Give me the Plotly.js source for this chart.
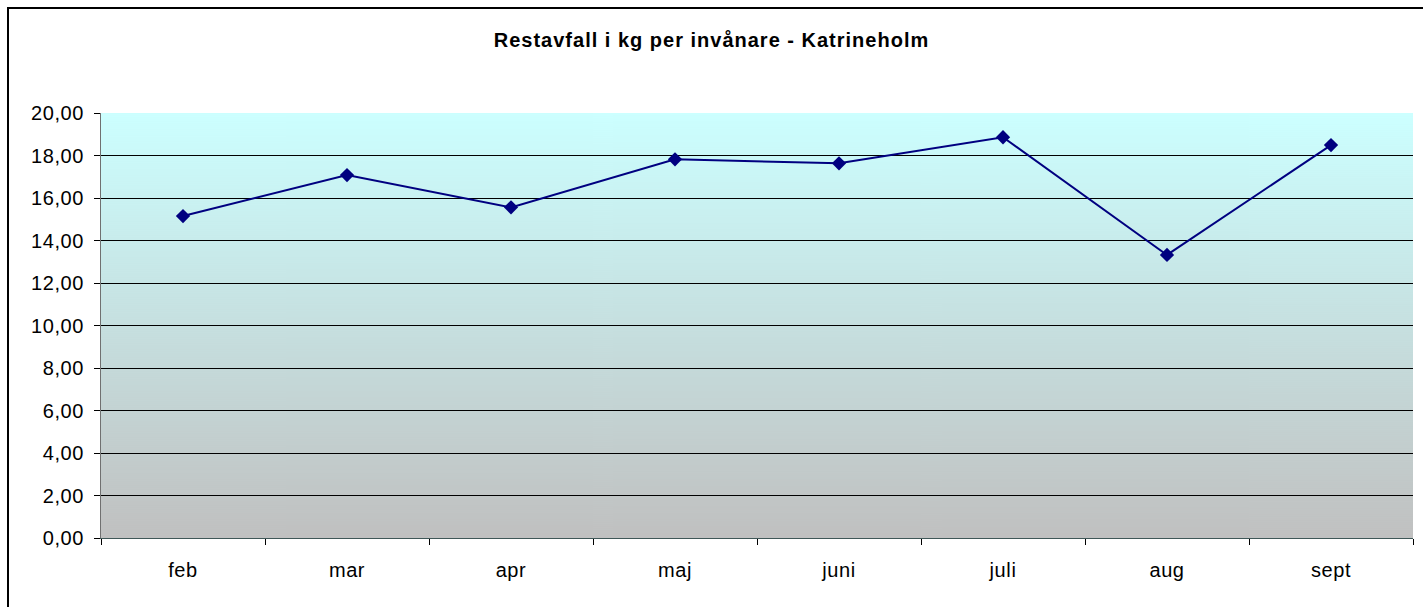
<!DOCTYPE html>
<html>
<head>
<meta charset="utf-8">
<script src="https://cdn.plot.ly/plotly-3.0.1.min.js"></script>
<style>
  html, body { margin: 0; padding: 0; background: #fff; overflow: hidden; }
  #wrap { position: relative; width: 1423px; height: 607px; }
  #chart { position: absolute; left: 0; top: 0; width: 1423px; height: 607px; }
  #frame { position: absolute; left: 7px; top: 7px; width: 1500px; height: 700px;
           border-left: 2px solid #000; border-top: 2px solid #000; pointer-events: none; box-sizing: border-box; }
  .gtitle { letter-spacing: 1px; }
  .xtick text, .ytick text { letter-spacing: 0.6px; }
</style>
</head>
<body>
<div id="wrap">
  <div id="chart"></div>
  <div id="frame"></div>
</div>
<script>
const months = ['feb', 'mar', 'apr', 'maj', 'juni', 'juli', 'aug', 'sept'];
const restavfall = [15.15, 17.08, 15.56, 17.82, 17.63, 18.86, 13.32, 18.49];
const yTicks = [0, 2, 4, 6, 8, 10, 12, 14, 16, 18, 20];
const gridVals = [2, 4, 6, 8, 10, 12, 14, 16, 18];
const chartTitle = 'Restavfall i kg per invånare - Katrineholm';

// gradient background for plot area
const cv = document.createElement('canvas');
cv.width = 4; cv.height = 425;
const ctx = cv.getContext('2d');
const g = ctx.createLinearGradient(0, 0, 0, cv.height);
g.addColorStop(0, '#CCFFFF');
g.addColorStop(1, '#C0C0C0');
ctx.fillStyle = g;
ctx.fillRect(0, 0, cv.width, cv.height);
const bgURL = cv.toDataURL('image/png');

const traces = [
  {
    x: months,
    y: restavfall,
    type: 'scatter',
    mode: 'lines+markers',
    line: { color: '#000080', width: 2 },
    marker: { symbol: 'diamond', size: 11, color: '#000080' },
    hoverinfo: 'x+y',
    showlegend: false
  },
  {
    x: months,
    y: gridVals.map(() => null),
    yaxis: 'y2',
    type: 'scatter',
    mode: 'lines',
    hoverinfo: 'skip',
    showlegend: false
  }
];

const font = { family: 'Liberation Sans, Arial, sans-serif', size: 20, color: '#000' };

const layout = {
  width: 1423,
  height: 607,
  margin: { l: 101, r: 10, t: 113, b: 69 },
  paper_bgcolor: 'rgba(0,0,0,0)',
  plot_bgcolor: 'rgba(0,0,0,0)',
  separators: ', ',
  font: font,
  title: {
    text: '<b>' + chartTitle + '</b>',
    font: { family: 'Liberation Sans, Arial, sans-serif', size: 20, color: '#000' },
    x: 0.5, xref: 'container', xanchor: 'center',
    y: 1 - 40 / 607, yref: 'container', yanchor: 'middle'
  },
  xaxis: {
    type: 'category',
    tickson: 'boundaries',
    ticks: 'outside',
    ticklen: 6,
    tickcolor: '#000',
    tickwidth: 1,
    showline: true,
    linecolor: '#3f5757',
    linewidth: 1,
    showgrid: false,
    zeroline: false,
    tickfont: font,
    ticklabelstandoff: 14,
    range: [-0.5, months.length - 0.5]
  },
  yaxis: {
    range: [0, 20],
    tickvals: yTicks,
    tickformat: '.2f',
    ticks: 'outside',
    ticklen: 6,
    tickcolor: '#000',
    showline: true,
    linecolor: '#707070',
    linewidth: 1,
    showgrid: false,
    zeroline: false,
    tickfont: font,
    ticklabelstandoff: 6
  },
  yaxis2: {
    overlaying: 'y',
    range: [0, 20],
    tickvals: gridVals,
    showticklabels: false,
    ticks: '',
    showgrid: true,
    gridcolor: '#000',
    gridwidth: 1,
    showline: false,
    zeroline: false
  },
  images: [{
    source: bgURL,
    xref: 'paper', yref: 'paper',
    x: 0, y: 1, sizex: 1, sizey: 1,
    xanchor: 'left', yanchor: 'top',
    sizing: 'stretch',
    layer: 'below'
  }]
};

Plotly.newPlot('chart', traces, layout, { displayModeBar: false, staticPlot: true });
</script>
</body>
</html>
